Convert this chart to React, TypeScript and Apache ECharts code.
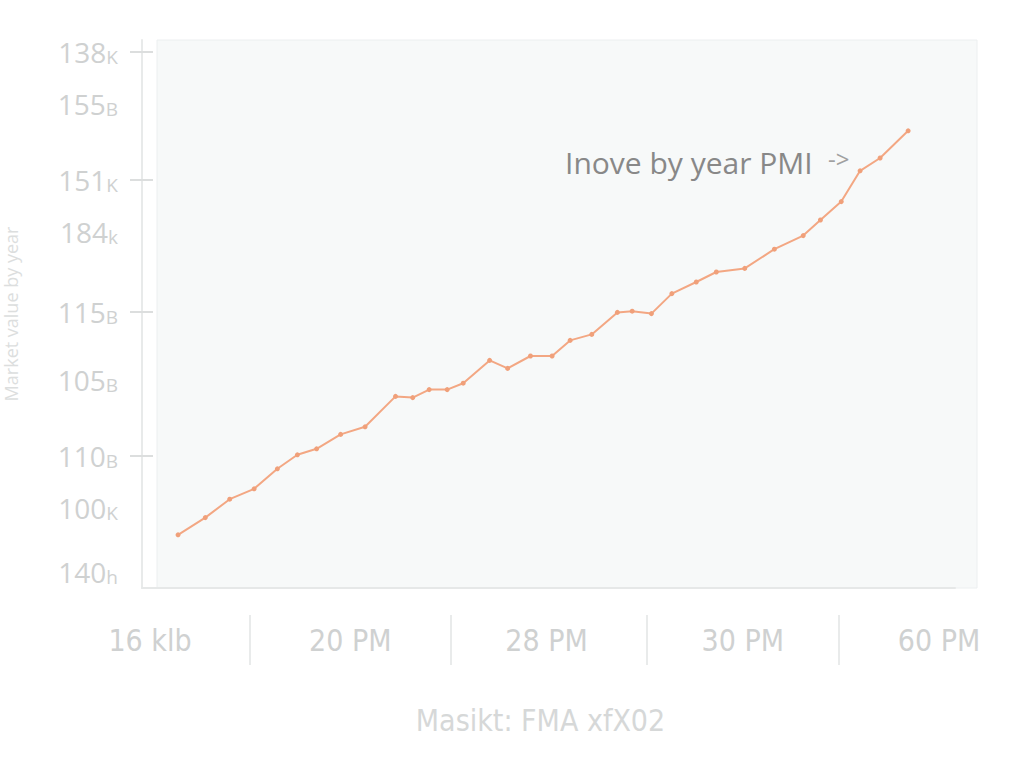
import React, { useEffect, useRef } from "react";
import * as echarts from "echarts";

// ---- data ----
// y-axis tick labels (bottom to top) and the axis values they sit at
const yTickLabels = ["140h", "100K", "110B", "105B", "115B", "184k", "151K", "155B", "138K"];
const yTickValues = [4, 20, 33, 52, 69, 89, 102, 121, 134];
// which y labels also carry a tick mark
const yTickMarked = ["110B", "115B", "151K", "138K"];
const yMax = 137;

// x-axis tick labels and the axis values they sit at
const xTickLabels = ["16 klb", "20 PM", "28 PM", "30 PM", "60 PM"];
const xTickValues = [2, 52, 101, 150, 199];
// separators between x labels
const xSeparatorValues = [27, 77, 126, 174];
const xMax = 203;

// series
const seriesX = [
  9.0, 15.8, 21.9, 28.0, 33.8, 38.8, 43.6, 49.6, 55.7, 63.3, 67.6, 71.7, 76.2, 80.2, 86.8, 91.3, 97.0,
  102.4, 106.9, 112.3, 118.7, 122.4, 127.2, 132.3, 138.4, 143.4, 150.5, 157.9, 165.1, 169.4, 174.6,
  179.3, 184.3, 191.3,
];
const seriesY = [
  13.3, 17.6, 22.2, 24.8, 29.8, 33.3, 34.8, 38.4, 40.3, 47.9, 47.6, 49.6, 49.6, 51.2, 56.9, 54.9, 58.0,
  58.0, 61.9, 63.4, 68.9, 69.2, 68.6, 73.6, 76.5, 79.0, 79.9, 84.7, 88.1, 92.0, 96.6, 104.3, 107.5,
  114.3,
];

const annotationText = "Inove by year PMI";
const xAxisTitle = "Masikt: FMA xfX02";
const yAxisTitle = "Market value by year";

const narrowFont = "Liberation Sans Narrow, DejaVu Sans Condensed, Roboto Condensed, sans-serif";

export default function App() {
  const ref = useRef<HTMLDivElement>(null);

  useEffect(() => {
    if (!ref.current) return;
    const chart = echarts.init(ref.current, null, { renderer: "svg" });

    const ySlots: string[] = [];
    for (let i = 0; i <= yMax; i++) {
      const k = yTickValues.indexOf(i);
      ySlots.push(k >= 0 ? yTickLabels[k] : "");
    }
    const xSlots: string[] = [];
    const sepSlots: string[] = [];
    for (let i = 0; i <= xMax; i++) {
      const k = xTickValues.indexOf(i);
      xSlots.push(k >= 0 ? xTickLabels[k] : "");
      sepSlots.push(xSeparatorValues.indexOf(i) >= 0 ? "|" : "");
    }

    const labelColor = "#cfd1d1";
    const data = seriesX.map((x, i) => [x, seriesY[i]]);

    chart.setOption({
      animation: false,
      backgroundColor: "#ffffff",
      grid: { left: 142, top: 40, width: 813, height: 548, outerBoundsMode: "none", containLabel: false },
      graphic: [
        {
          type: "rect",
          z: -10,
          shape: { x: 157, y: 40, width: 820, height: 548 },
          style: { fill: "#f7f9f9", stroke: "#eceff0", lineWidth: 1 },
        },
        {
          type: "text",
          x: 565,
          y: 162,
          style: {
            text: annotationText,
            fontFamily: "Open Sans",
            fontSize: 30,
            fill: "#888888",
            verticalAlign: "middle",
            align: "left",
          },
        },
        {
          type: "text",
          x: 828,
          y: 158,
          style: {
            text: "->",
            fontFamily: "Open Sans",
            fontSize: 24,
            fill: "#a0a0a0",
            verticalAlign: "middle",
            align: "left",
          },
        },
      ],
      xAxis: [
        {
          type: "category",
          data: xSlots,
          boundaryGap: false,
          position: "bottom",
          axisLine: { show: true, lineStyle: { color: "#e6e8e8", width: 2 } },
          axisTick: { show: false },
          axisLabel: {
            interval: (_i: number, v: string) => v !== "",
            margin: 37,
            color: labelColor,
            fontSize: 30,
            fontFamily: narrowFont,
          },
          splitLine: { show: false },
          name: xAxisTitle,
          nameLocation: "middle",
          nameGap: 117,
          nameTextStyle: {
            color: "#d6d8d8",
            fontSize: 30,
            fontFamily: narrowFont,
            padding: [0, 16, 0, 0],
          },
        },
        {
          type: "category",
          data: sepSlots,
          boundaryGap: false,
          position: "bottom",
          offset: 27,
          axisLine: { show: false },
          axisTick: {
            show: true,
            interval: (_i: number, v: string) => v !== "",
            length: 50,
            lineStyle: { color: "#e9ebeb", width: 2 },
          },
          axisLabel: { show: false },
          splitLine: { show: false },
        },
        { type: "value", min: 0, max: xMax, show: false },
      ],
      yAxis: [
        {
          type: "category",
          data: ySlots,
          boundaryGap: false,
          position: "left",
          axisLine: { show: true, lineStyle: { color: "#e8eaea", width: 2 } },
          axisTick: {
            show: true,
            length: 12,
            interval: (_i: number, v: string) => yTickMarked.indexOf(v) >= 0,
            lineStyle: { color: "#dcdede", width: 2 },
          },
          axisLabel: {
            interval: (_i: number, v: string) => v !== "",
            margin: 24,
            formatter: (v: string) => {
              const m = v.match(/^(\d+)(.*)$/);
              return m ? `{n|${m[1]}}{s|${m[2]}}` : v;
            },
            rich: {
              n: { color: labelColor, fontSize: 28, fontFamily: "Open Sans" },
              s: { color: labelColor, fontSize: 19, fontFamily: "Open Sans", verticalAlign: "bottom" },
            },
          },
          splitLine: { show: false },
          name: yAxisTitle,
          nameLocation: "middle",
          nameRotate: 90,
          nameGap: 122,
          nameTextStyle: { color: "#dcdede", fontSize: 18, fontFamily: "Open Sans" },
        },
        {
          type: "category",
          data: ySlots,
          boundaryGap: false,
          position: "left",
          axisLine: { show: false },
          axisTick: {
            show: true,
            inside: true,
            length: 11,
            interval: (_i: number, v: string) => yTickMarked.indexOf(v) >= 0,
            lineStyle: { color: "#dcdede", width: 2 },
          },
          axisLabel: { show: false },
          splitLine: { show: false },
        },
        { type: "value", min: 0, max: yMax, show: false },
      ],
      series: [
        {
          type: "line",
          xAxisIndex: 2,
          yAxisIndex: 2,
          data,
          symbol: "circle",
          symbolSize: 5,
          lineStyle: { color: "#f3a783", width: 2 },
          itemStyle: { color: "#f0a07a" },
          z: 5,
        },
      ],
    });

    return () => chart.dispose();
  }, []);

  return (
    <div
      ref={ref}
      style={{ position: "fixed", left: 0, top: 0, width: 1024, height: 768, background: "#fff" }}
    />
  );
}
